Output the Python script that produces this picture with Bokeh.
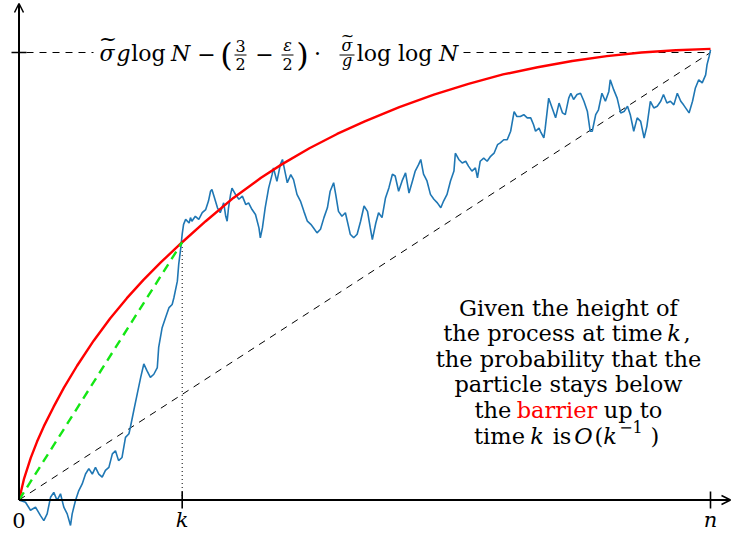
from bokeh.plotting import figure
from bokeh.models import Range1d, Arrow, OpenHead
from bokeh.core.properties import value
from bokeh.embed import file_html
from bokeh.resources import INLINE

# ---------------- data ----------------
N_END = 100.0      # time n
K_TIME = 23.6      # time k
TOP = 100.0        # level  sigma~ g log N - (3/2 - eps/2) sigma~/g loglog N
K_HEIGHT = 57.6    # height of the process / barrier at time k

tick_labels = ["0", "k", "n"]

barrier_t = [0, 0.7, 1.7, 2.6, 3.6, 5.0, 6.5, 8.4, 10.8, 13.2,
             15.6, 18.0, 20.5, 23.6, 27.0, 31.0, 35.0, 38.0, 42.0, 46.0,
             50.0, 55.0, 60.0, 65.0, 70.0, 75.0, 80.0, 85.0, 90.0, 95.0, 100.0]
barrier_h = [0, 4.6, 9.4, 13.0, 16.5, 20.8, 25.1, 30.0, 35.6, 40.6,
             45.1, 49.2, 53.1, 57.6, 62.3, 67.5, 72.0, 75.0, 78.6, 81.8,
             84.6, 87.8, 90.6, 93.0, 95.1, 96.7, 98.1, 99.2, 100.0, 100.5, 100.8]

walk_t = [0, 0.94, 1.66, 2.39, 3.11, 3.59, 4.07, 4.56, 5.03, 5.52,
          6.0, 6.48, 6.97, 7.45, 7.69, 8.17, 8.65, 9.14, 9.62, 10.1,
          10.6, 11.06, 11.54, 12.03, 12.5, 13.0, 13.5, 13.95, 14.4, 14.9,
          15.4, 15.9, 16.1, 16.6, 17.1, 17.6, 18.05, 18.5, 19.0, 19.5,
          20.0, 20.2, 20.7, 21.2, 21.7, 22.15, 22.4, 22.9, 23.1, 23.4,
          23.6, 23.8, 24.1, 24.6, 24.8, 25.0, 25.5, 26.0, 26.5, 27.0,
          27.4, 27.7, 27.9, 28.2, 28.7, 29.1, 29.6, 29.9, 30.1, 30.3,
          30.6, 30.8, 31.3, 31.8, 32.3, 32.8, 33.2, 33.7, 34.2, 34.7,
          34.9, 35.2, 35.6, 36.1, 36.6, 36.8, 37.3, 37.8, 38.1, 38.5,
          38.8, 39.3, 39.7, 40.2, 40.7, 41.2, 41.7, 42.2, 42.6, 43.1,
          43.6, 44.1, 44.6, 45.0, 45.5, 45.8, 46.2, 46.7, 47.2, 47.7,
          47.9, 48.4, 48.9, 49.4, 49.9, 50.4, 50.8, 51.1, 51.6, 52.0,
          52.5, 53.0, 53.5, 54.0, 54.4, 54.9, 55.4, 55.9, 56.4, 56.9,
          57.3, 57.8, 58.1, 58.5, 59.0, 59.5, 60.0, 60.5, 61.0, 61.4,
          61.9, 62.4, 62.9, 63.1, 63.6, 64.1, 64.6, 65.0, 65.5, 66.0,
          66.3, 66.7, 67.2, 67.7, 68.2, 68.7, 69.2, 69.6, 70.1, 70.6,
          71.1, 71.6, 72.0, 72.5, 73.0, 73.5, 74.0, 74.4, 74.7, 75.2,
          75.4, 75.9, 76.1, 76.6, 77.1, 77.6, 78.1, 78.6, 79.0, 79.5,
          79.8, 80.2, 80.7, 81.2, 81.7, 82.2, 82.6, 82.9, 83.4, 83.8,
          84.3, 84.8, 85.3, 85.5, 86.0, 86.5, 87.0, 87.5, 88.0, 88.4,
          88.9, 89.4, 89.9, 90.4, 90.8, 91.3, 91.8, 92.3, 92.8, 93.2,
          93.7, 94.2, 94.7, 95.2, 95.7, 96.1, 96.9, 97.4, 97.8, 98.3,
          98.8, 99.3, 99.5, 99.8, 100.0]
walk_h = [0, -0.5, -2.3, -1.6, -3.5, -4.6, -3.1, 0.6, 1.7, -0.1,
          1.4, -1.6, -3.1, -5.7, -3.1, -0.1, 2.1, 3.6, 5.8, 7.0,
          5.8, 7.3, 5.8, 5.1, 6.6, 7.3, 10.3, 11.0, 8.8, 9.5,
          14.0, 14.8, 16.2, 20.0, 23.7, 27.4, 30.4, 28.9, 27.4, 28.1,
          29.6, 34.1, 38.5, 40.8, 43.0, 43.7, 45.2, 48.9, 52.7, 56.4,
          59.4, 61.6, 62.7, 61.9, 63.1, 62.3, 63.4, 62.7, 64.2, 64.9,
          66.8, 69.0, 69.4, 67.9, 65.3, 64.2, 66.4, 63.4, 62.3, 65.3,
          68.3, 69.7, 68.3, 67.2, 67.9, 66.0, 66.4, 64.9, 63.8, 60.8,
          58.6, 60.8, 65.3, 69.7, 72.7, 74.2, 71.2, 75.0, 76.1, 73.1,
          70.9, 72.7, 71.6, 68.3, 66.8, 64.5, 62.3, 61.6, 60.8, 59.7,
          60.5, 63.1, 65.3, 69.0, 70.9, 68.3, 64.5, 63.4, 64.2, 60.8,
          59.4, 58.6, 59.4, 62.3, 65.7, 64.5, 60.8, 58.2, 61.9, 64.2,
          63.1, 67.5, 69.8, 72.8, 72.4, 69.0, 71.3, 73.1, 68.6, 71.3,
          73.5, 75.0, 76.1, 72.8, 71.3, 68.3, 67.2, 66.4, 65.3, 66.8,
          68.3, 71.3, 73.5, 77.5, 76.1, 75.3, 75.7, 74.6, 73.5, 74.2,
          72.0, 75.7, 76.4, 75.7, 76.8, 77.5, 79.4, 79.8, 80.5, 80.5,
          82.4, 86.8, 85.7, 85.7, 86.1, 85.4, 85.4, 83.9, 82.4, 83.1,
          82.4, 80.9, 83.1, 89.8, 87.6, 85.4, 88.7, 86.5, 86.1, 89.8,
          90.9, 89.5, 90.6, 90.9, 89.1, 86.8, 82.4, 82.4, 86.1, 87.2,
          90.9, 89.1, 91.3, 93.9, 91.7, 89.8, 86.5, 86.8, 88.0, 86.1,
          82.4, 85.4, 84.6, 80.9, 83.5, 89.1, 87.6, 88.0, 89.1, 90.6,
          88.7, 89.1, 88.3, 90.9, 89.1, 88.3, 86.5, 89.1, 92.0, 93.9,
          93.2, 95.0, 97.3, 99.1, 100.6]

# ---------------- layout ----------------
W, H = 732, 533
X0PX, XNPX = 18.5, 710.0     # page px of t=0 and t=n
Y0PY, YTPY = 499.5, 52.0     # page px of height 0 and TOP
SX = (XNPX - X0PX) / N_END
SY = (Y0PY - YTPY) / TOP


def X(px):
    return (px - X0PX) / SX


def Y(py):
    return (Y0PY - py) / SY


p = figure(width=W, height=H,
           x_range=Range1d(X(0), X(W)),
           y_range=Range1d(Y(H), Y(0)),
           output_backend="svg", toolbar_location=None,
           x_axis_location=None, y_axis_location=None, min_border=0)
p.grid.grid_line_color = None
p.outline_line_color = None
p.background_fill_color = "white"
p.border_fill_color = "white"

FONT = value("'DejaVu Serif', 'Liberation Serif', serif")


def txt(px, base_py, s, size=22.5, align="center", italic=False, color="black"):
    """place text so that its alphabetic baseline sits at page px base_py"""
    mid = base_py - 0.35 * size
    p.text(x=[X(px)], y=[Y(mid)], text=[s], text_font=FONT,
           text_font_size=f"{size}px", text_align=align,
           text_baseline="middle", text_color=color,
           text_font_style="italic" if italic else "normal")


def hbar(a, b, py, w=1.0):
    p.segment(x0=[X(a)], y0=[Y(py)], x1=[X(b)], y1=[Y(py)],
              line_width=w, line_color="black")


# reference lines
p.line([0, N_END], [0, TOP], line_color="black", line_width=1, line_dash="7 6")
p.line([X(26), X(93)], [TOP, TOP], line_color="black", line_width=1, line_dash="7 6")
p.line([X(463), N_END], [TOP, TOP], line_color="black", line_width=1, line_dash="7 6")
p.line([K_TIME, K_TIME], [0, K_HEIGHT], line_color="black", line_width=1, line_dash="1 3")

# random walk, barrier, chord
p.line(walk_t, walk_h, line_color="#1f77b4", line_width=1.6)
p.line(barrier_t, barrier_h, line_color="#ff0000", line_width=2.4)
p.line([0, K_TIME], [0, K_HEIGHT], line_color="#14e614", line_width=2.4, line_dash="9 6")

# axes with arrows
p.add_layout(Arrow(end=OpenHead(size=9, line_width=1.5, line_color="black"),
                   x_start=0, y_start=0, x_end=0, y_end=Y(3),
                   line_width=2, line_color="black"))
p.add_layout(Arrow(end=OpenHead(size=9, line_width=1.5, line_color="black"),
                   x_start=0, y_start=0, x_end=X(730), y_end=0,
                   line_width=2, line_color="black"))

# ticks and tick labels
tick_t = [0, K_TIME, N_END]
p.segment(x0=tick_t[1:], y0=[Y(491)] * 2, x1=tick_t[1:], y1=[Y(508)] * 2,
          line_color="black", line_width=1.6)
p.segment(x0=[X(11)], y0=[TOP], x1=[X(26)], y1=[TOP], line_color="black", line_width=1.6)
for t, lab in zip(tick_t, tick_labels):
    p.text(x=[t], y=[Y(527 - 0.35 * 21)], text=[lab], text_font=FONT,
           text_font_size="21px", text_align="center", text_baseline="middle",
           text_font_style="normal" if lab == "0" else "italic")

# ---- formula on the top level ----
BL = 61
F = 22
txt(106.5, BL, "σ", F, italic=True)
txt(107.5, 46, "~", F)
txt(123, BL, "g", F, italic=True)
txt(148, BL, "log", F)
txt(180, BL, "N", F, italic=True)
txt(206, BL, "−", F)
txt(226, 54 + 0.35 * 32, "(", 32)
txt(240, 51, "3", 16)
hbar(234, 246, 54.5)
txt(240, 69, "2", 16)
txt(264, BL, "−", F)
txt(287, 51, "ε", 16, italic=True)
hbar(281, 293, 54.5)
txt(287, 69, "2", 16)
txt(302, 54 + 0.35 * 32, ")", 32)
txt(317, BL, "·", F)
txt(346.5, 51, "σ", 16, italic=True)
txt(347, 41, "~", 16)
hbar(339, 354, 54.5)
txt(346.5, 66, "g", 16, italic=True)
txt(394, BL, "log log", F)
txt(448, BL, "N", F, italic=True)

# ---- explanatory text ----
CX = 568
L = [315, 340.6, 366.2, 391.8, 417.4, 443]
txt(CX, L[0], "Given the height of")
txt(552.5, L[1], "the process at time")
txt(673.5, L[1], "k", italic=True)
txt(686.5, L[1], ",")
txt(CX, L[2], "the probability that the")
txt(CX, L[3], "particle stays below")
txt(492.5, L[4], "the")
txt(556.5, L[4], "barrier", color="#ff0000")
txt(632.5, L[4], "up to")
txt(499, L[5], "time")
txt(536.5, L[5], "k", italic=True)
txt(561.5, L[5], "is")
txt(583, L[5], "O", italic=True)
txt(598.5, L[5], "(")
txt(609.5, L[5], "k", italic=True)
txt(630.5, 432, "−1", 16)
txt(654.5, L[5], ")")

open("out.html", "w").write(file_html(p, INLINE))
